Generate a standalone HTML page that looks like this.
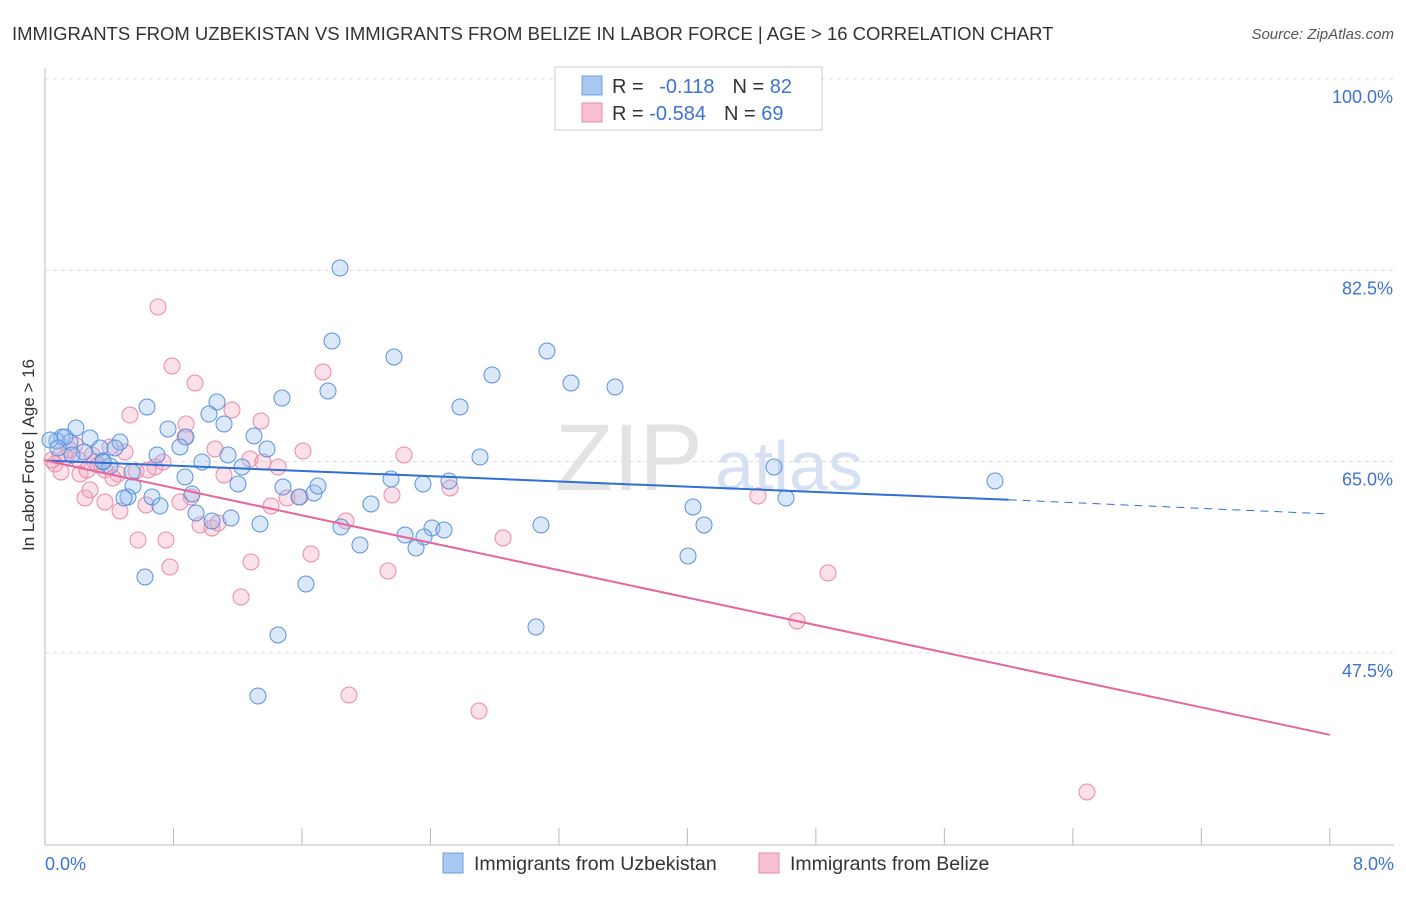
<!DOCTYPE html>
<html><head><meta charset="utf-8">
<style>
body{margin:0;background:#fff;font-family:"Liberation Sans",sans-serif;}
svg text{font-family:"Liberation Sans",sans-serif;}
</style></head>
<body>
<svg id="c" width="1406" height="892" xmlns="http://www.w3.org/2000/svg">
<text x="12" y="40" font-size="18.5" fill="#333">IMMIGRANTS FROM UZBEKISTAN VS IMMIGRANTS FROM BELIZE IN LABOR FORCE | AGE &gt; 16 CORRELATION CHART</text>
<text x="1394" y="39" font-size="15" fill="#555" font-style="italic" text-anchor="end">Source: ZipAtlas.com</text>
<text x="555" y="490" font-size="95" fill="#e3e3e3" font-family="Liberation Serif">ZIP</text>
<text x="715" y="490" font-size="70" fill="#d6e2f3">atlas</text>
<g id="grid"></g>
<g id="pts"></g>
<g id="lines"></g>
<text x="34" y="455" font-size="17" fill="#333" transform="rotate(-90 34 455)" text-anchor="middle">In Labor Force | Age &gt; 16</text>
<text x="45" y="870" font-size="18" fill="#3d73d4">0.0%</text>
<text x="1394" y="870" font-size="18" fill="#3d73d4" text-anchor="end">8.0%</text>
<g>
<rect x="555" y="67" width="267" height="63" fill="#fff" stroke="#ccc"/>
<rect x="582" y="76" width="20" height="19" fill="#a9c8f0" stroke="#6a9fe0"/>
<rect x="582" y="103" width="20" height="19" fill="#f7c0d2" stroke="#e98aa8"/>
<text x="612" y="93" font-size="20" fill="#333">R = <tspan fill="#3d73d4" dx="10">-0.118</tspan><tspan dx="18" fill="#333">N = </tspan><tspan fill="#3d73d4">82</tspan></text>
<text x="612" y="120" font-size="20" fill="#333">R = <tspan fill="#3d73d4">-0.584</tspan><tspan dx="18" fill="#333">N = </tspan><tspan fill="#3d73d4">69</tspan></text>
</g>
<g>
<rect x="443" y="853" width="20" height="20" fill="#a9c8f0" stroke="#6a9fe0"/>
<text x="474" y="870" font-size="19.5" fill="#333">Immigrants from Uzbekistan</text>
<rect x="759" y="853" width="20" height="20" fill="#f7c0d2" stroke="#e98aa8"/>
<text x="790" y="870" font-size="19.5" fill="#333">Immigrants from Belize</text>
</g>
</svg>
<script>
const yTicks=[100,82.5,65,47.5];
const yTickLabels=["100.0%","82.5%","65.0%","47.5%"];
const xTicks=[0,0.8,1.6,2.4,3.2,4.0,4.8,5.6,6.4,7.2,8.0];
const bluePx=[[340,268],[332,341],[394,357],[547,351],[492,375],[571,383],[615,387],[328,391],[282,398],[460,407],[147,407],[217,402],[209,414],[224,424],[168,429],[186,437],[254,436],[180,447],[267,449],[228,455],[157,455],[202,462],[242,467],[480,457],[76,428],[62,437],[90,438],[120,442],[100,448],[84,452],[115,448],[57,441],[70,442],[65,437],[103,461],[110,466],[132,472],[185,477],[238,484],[133,486],[152,497],[128,497],[124,498],[160,506],[192,494],[283,487],[299,497],[314,493],[318,486],[391,479],[423,484],[449,481],[371,504],[196,513],[212,521],[231,518],[260,524],[341,527],[432,528],[424,537],[405,535],[444,530],[360,545],[416,548],[541,525],[693,507],[704,525],[688,556],[306,584],[145,577],[278,635],[258,696],[536,627],[774,467],[786,498],[995,481],[103,462],[50,440],[58,448],[72,455]];
const pinkPx=[[158,307],[172,366],[195,383],[323,372],[232,410],[130,415],[261,421],[186,424],[185,437],[215,449],[250,459],[263,462],[278,467],[303,451],[404,455],[110,447],[125,452],[92,455],[79,460],[66,457],[55,464],[61,472],[80,474],[95,462],[105,470],[118,474],[136,471],[155,467],[148,470],[163,462],[191,497],[180,502],[146,505],[85,498],[105,502],[120,511],[90,490],[200,525],[212,528],[218,523],[224,475],[271,506],[287,498],[300,497],[346,521],[392,495],[450,488],[138,540],[166,540],[170,567],[251,562],[241,597],[311,554],[388,571],[503,538],[758,496],[828,573],[797,621],[349,695],[479,711],[1087,792],[52,460],[60,455],[75,445],[98,465],[113,478],[87,470],[70,450]];
const blueX=bluePx.map(p=>(p[0]-45)/160.6), blueY=bluePx.map(p=>100-(p[1]-79)/10.93);
const pinkX=pinkPx.map(p=>(p[0]-45)/160.6), pinkY=pinkPx.map(p=>100-(p[1]-79)/10.93);
const blueTrend=[65.1,61.5,60.2];
const pinkTrend=[65.1,40.0];
const X=v=>45+v*160.6, Y=v=>79+(100-v)*10.93;
const NS="http://www.w3.org/2000/svg";
function mk(t,a,p){const e=document.createElementNS(NS,t);for(const k in a)e.setAttribute(k,a[k]);p.appendChild(e);return e;}
const g=document.getElementById('grid');
yTicks.forEach((v,i)=>{
 const l=mk('line',{x1:45,x2:1394,y1:Y(v),y2:Y(v),stroke:'#ddd','stroke-dasharray':'4,4'},g);
 
 
 const t=mk('text',{x:1393,y:Y(v)+24,'font-size':18,fill:'#3d73d4','text-anchor':'end'},g);
 t.textContent=yTickLabels[i];
 
 
});
const ax=mk('line',{x1:45,x2:45,y1:68,y2:845,stroke:'#bbb'},g);


const bx=mk('line',{x1:45,x2:1394,y1:845,y2:845,stroke:'#bbb'},g);


xTicks.forEach(v=>{const t=mk('line',{x1:X(v),x2:X(v),y1:828,y2:845,stroke:'#bbb'},g);
 
 });
const P=document.getElementById('pts');
pinkX.forEach((x,i)=>{const c=mk('circle',{cx:X(x),cy:Y(pinkY[i]),r:8,fill:'rgba(245,170,195,0.35)',stroke:'#e98aa8','stroke-width':1},P);
 
 });
blueX.forEach((x,i)=>{const c=mk('circle',{cx:X(x),cy:Y(blueY[i]),r:8,fill:'rgba(150,190,240,0.35)',stroke:'#5b93dd','stroke-width':1},P);
 
 });
const L=document.getElementById('lines');
let e=mk('line',{x1:X(0),y1:Y(blueTrend[0]),x2:X(6.0),y2:Y(blueTrend[1]),stroke:'#2f6fd6','stroke-width':2},L);


e=mk('line',{x1:X(6.0),y1:Y(blueTrend[1]),x2:X(8.0),y2:Y(blueTrend[2]),stroke:'#2f6fd6','stroke-width':1,'stroke-dasharray':'8,6'},L);


e=mk('line',{x1:X(0),y1:Y(pinkTrend[0]),x2:X(8),y2:Y(pinkTrend[1]),stroke:'#e5679a','stroke-width':2},L);


</script>
</body></html>
